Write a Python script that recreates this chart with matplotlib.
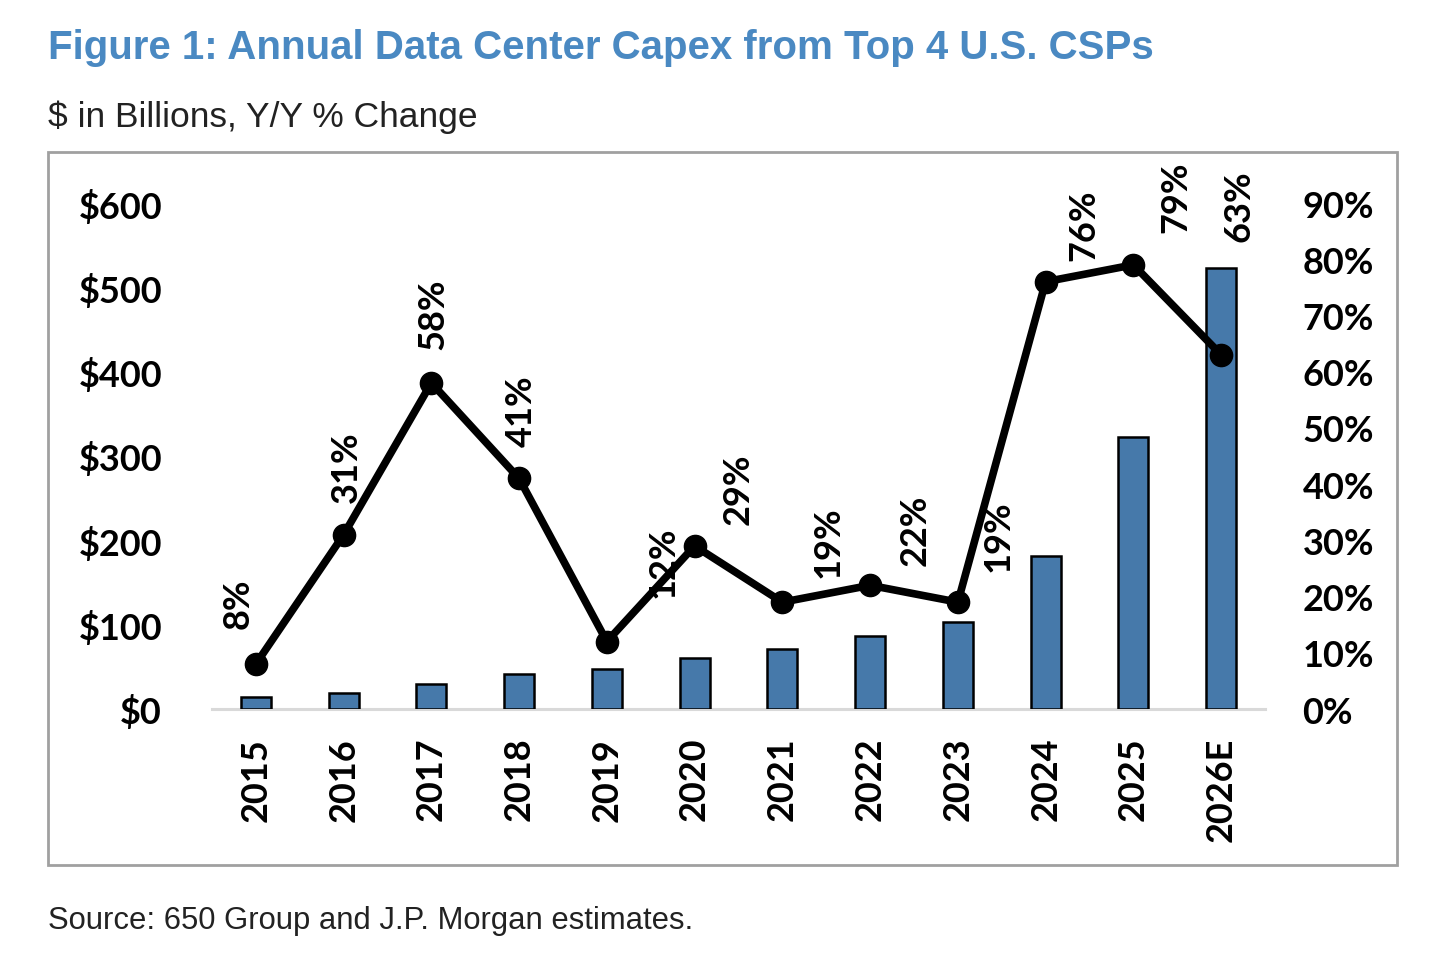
import matplotlib.pyplot as plt
from matplotlib.patches import Rectangle

years = ['2015', '2016', '2017', '2018', '2019', '2020', '2021', '2022', '2023', '2024', '2025', '2026E']
capex = [14.5, 19, 30, 42, 47, 60, 71, 87, 103, 181, 322, 523]   # $B
yoy = [8, 31, 58, 41, 12, 29, 19, 22, 19, 76, 79, 63]           # Y/Y %

# label offsets (pixels) from each point, picked to match the excel layout
label_off = [(-18, 36), (3, 33), (2, 34), (2, 32), (56, 45), (43, 22),
             (46, 25), (45, 20), (40, 31), (38, 22), (42, 33), (18, 114)]

head_font = 'Liberation Sans'
bold_font = 'Lato'

W, H = 1439, 962
fig = plt.figure(figsize=(W / 100, H / 100), dpi=100)

ax = fig.add_axes([212 / W, 1 - 710 / H, (1265 - 212) / W, (710 - 204) / H])
ax2 = ax.twinx()

x = range(len(years))
ax.bar(x, capex, width=0.34, color='#4679AA', edgecolor='black', linewidth=1.8, zorder=2)
ax.set_xlim(-0.5, len(years) - 0.5)
ax.set_ylim(0, 600)
ax.set_yticks(range(0, 601, 100))
ax.set_yticklabels(['${}'.format(v) for v in range(0, 601, 100)])

ax2.plot(x, yoy, color='black', linewidth=5.5, marker='o', markersize=16, zorder=3)
ax2.set_ylim(0, 90)
ax2.set_yticks(range(0, 91, 10))
ax2.set_yticklabels(['{}%'.format(v) for v in range(0, 91, 10)])

for i, v in enumerate(yoy):
    dx, dy = label_off[i]
    ax2.annotate('{}%'.format(v), (i, v), xytext=(dx, dy), textcoords='offset pixels',
                 rotation=90, ha='center', va='bottom', fontsize=26,
                 fontweight='bold', family=bold_font, annotation_clip=False)

ax.set_xticks(list(x))
ax.set_xticklabels(years, rotation=90, va='top')

for a in (ax, ax2):
    for s in a.spines.values():
        s.set_visible(False)
    a.tick_params(length=0)
    a.patch.set_visible(False)
ax.spines['bottom'].set_visible(True)
ax.spines['bottom'].set_color('#d9d9d9')
ax.spines['bottom'].set_linewidth(2.2)
ax.spines['bottom'].set_zorder(1)

ax.tick_params(axis='y', pad=36)
ax.tick_params(axis='x', pad=20)
ax2.tick_params(axis='y', pad=27)
for lab in ax.get_yticklabels() + ax.get_xticklabels() + ax2.get_yticklabels():
    lab.set_fontsize(26)
    lab.set_fontweight('bold')
    lab.set_family(bold_font)

# outer frame
fig.patches.append(Rectangle((48 / W, 1 - 866 / H), (1397 - 48) / W, (866 - 153) / H,
                             transform=fig.transFigure, fill=False,
                             edgecolor='#a0a0a0', linewidth=2))

fig.text(48 / W, 1 - 48 / H, 'Figure 1: Annual Data Center Capex from Top 4 U.S. CSPs',
         color='#4A89C2', fontsize=29, fontweight='bold', family=head_font, va='center')
fig.text(48 / W, 1 - 117 / H, '$ in Billions, Y/Y % Change',
         color='#222222', fontsize=25.5, family=head_font, va='center')
fig.text(48 / W, 1 - 921 / H, 'Source: 650 Group and J.P. Morgan estimates.',
         color='#222222', fontsize=22.3, family=head_font, va='center')

fig.savefig('out.png', dpi=100)
